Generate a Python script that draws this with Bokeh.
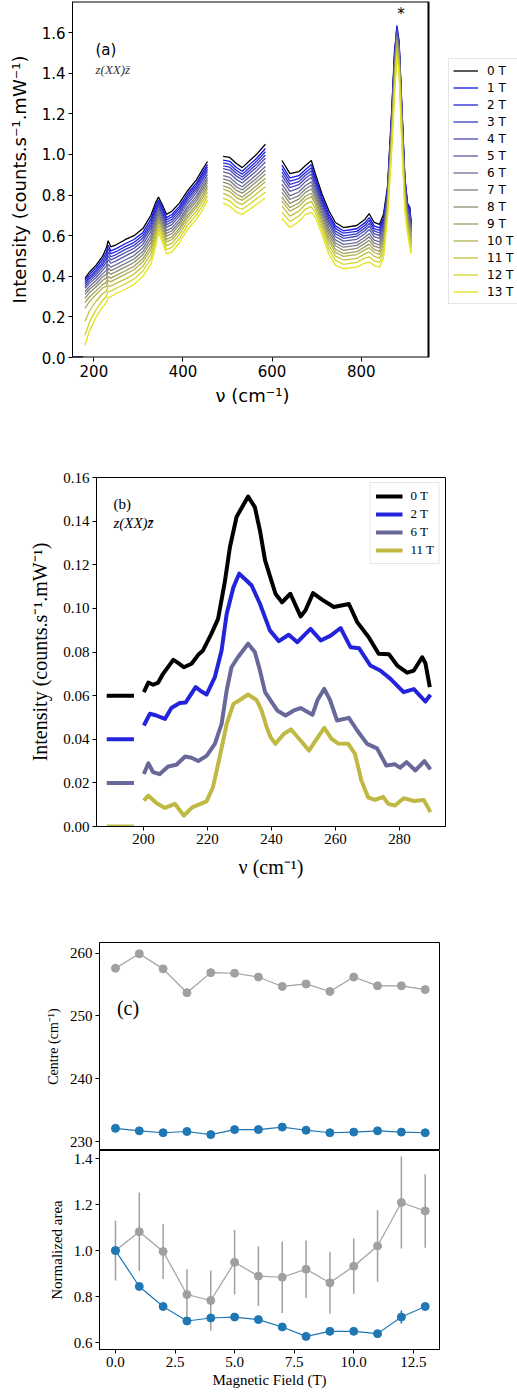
from bokeh.plotting import figure
from bokeh.models import Range1d, Label, Legend, LegendItem, FixedTicker, PrintfTickFormatter, Title
from bokeh.layouts import column
from bokeh.embed import file_html
from bokeh.resources import INLINE

NAN = float("nan")

# ---------------- Panel (a): Raman spectra 0..13 T ----------------
fields_a = list(range(14))
nu_seg1 = [180, 190, 205, 220, 228, 232, 238, 250, 270, 290, 310, 328, 338, 345, 353, 363, 375, 392, 410, 430, 445, 455]
nu_seg2 = [490, 505, 520, 533, 550, 565, 585]
nu_seg3 = [622, 640, 660, 675, 688, 697, 712, 727, 742, 760, 790, 808, 818, 829, 841, 850, 859, 868, 875, 880,
           885, 891, 898, 904, 909, 912]

I_0T = [.39, .42, .455, .50, .54, .575, .545, .555, .58, .60, .635, .70, .76, .79, .755, .705, .72, .76, .82, .875, .93, .965,
        .99, .985, .955, .935, .97, 1.0, 1.05,
        .97, .905, .915, .945, .97, .905, .805, .725, .665, .64, .65, .68, .708, .665, .655, .705, .84, 1.20, 1.52, 1.60, 1.54, 1.22, .87, .755, .74, .665]
I_1T = [.380, .408, .442, .485, .518, .553, .525, .536, .560, .581, .616, .681, .742, .776, .741, .689, .704, .744, .805, .859, .914, .950,
        .972, .966, .936, .917, .951, .980, 1.029,
        .947, .884, .895, .926, .950, .888, .789, .708, .648, .624, .634, .663, .689, .648, .638, .688, .828, 1.184, 1.502, 1.635, 1.56, 1.25, .89, .76, .735, .66]
I_2T = [.370, .397, .430, .47, .502, .536, .511, .521, .546, .566, .602, .666, .729, .766, .730, .678, .692, .733, .793, .848, .902, .938,
        .958, .951, .921, .903, .936, .966, 1.013,
        .930, .868, .881, .911, .934, .875, .777, .695, .636, .612, .621, .650, .675, .635, .626, .675, .819, 1.172, 1.489, 1.625, 1.55, 1.24, .88, .75, .725, .65]
I_3T = [.360, .388, .419, .458, .486, .519, .496, .507, .531, .552, .588, .652, .716, .755, .719, .666, .68, .721, .782, .836, .89, .927,
        .944, .937, .907, .889, .922, .951, .997,
        .913, .852, .866, .897, .919, .862, .765, .682, .623, .599, .609, .637, .660, .623, .613, .662, .81, 1.16, 1.476, 1.62, 1.54, 1.23, .87, .74, .715, .64]
I_4T = [.350, .376, .407, .445, .470, .502, .481, .493, .516, .538, .574, .638, .703, .745, .708, .654, .668, .709, .771, .824, .878, .916,
        .930, .923, .893, .875, .908, .936, .981,
        .896, .836, .851, .883, .904, .849, .753, .669, .610, .587, .597, .624, .646, .610, .600, .649, .801, 1.148, 1.463, 1.61, 1.53, 1.22, .86, .73, .70, .63]
I_5T = [.341, .365, .394, .43, .451, .483, .464, .476, .499, .521, .557, .621, .687, .732, .696, .641, .654, .696, .757, .811, .864, .902,
        .914, .906, .876, .859, .891, .919, .963,
        .876, .818, .834, .866, .886, .834, .739, .654, .596, .573, .582, .609, .630, .595, .586, .634, .791, 1.134, 1.447, 1.60, 1.52, 1.21, .85, .72, .69, .62]
I_6T = [.324, .350, .379, .413, .429, .460, .445, .457, .480, .502, .539, .602, .670, .718, .681, .625, .638, .680, .742, .795, .848, .887,
        .896, .887, .857, .841, .872, .900, .941,
        .853, .796, .815, .847, .865, .817, .723, .637, .579, .557, .566, .592, .610, .578, .569, .617, .779, 1.118, 1.430, 1.59, 1.51, 1.19, .835, .705, .67, .60]
I_7T = [.311, .336, .363, .398, .410, .441, .427, .440, .462, .485, .522, .585, .654, .706, .669, .611, .624, .666, .729, .781, .834, .874,
        .880, .870, .840, .825, .855, .882, .923,
        .833, .778, .797, .830, .848, .802, .709, .622, .564, .543, .552, .577, .594, .563, .554, .602, .768, 1.104, 1.414, 1.58, 1.50, 1.18, .82, .695, .655, .59]
I_8T = [.291, .319, .348, .38, .392, .421, .410, .423, .445, .468, .506, .568, .639, .694, .656, .598, .61, .653, .716, .768, .82, .861,
        .864, .853, .823, .809, .838, .865, .904,
        .813, .759, .780, .813, .830, .787, .695, .607, .550, .528, .537, .562, .577, .548, .540, .587, .758, 1.09, 1.399, 1.57, 1.49, 1.16, .81, .68, .64, .575]
I_9T = [.271, .298, .328, .36, .370, .399, .391, .404, .426, .449, .487, .549, .621, .680, .642, .582, .594, .637, .700, .752, .804, .845,
        .845, .834, .804, .790, .819, .846, .883,
        .790, .738, .761, .794, .809, .770, .679, .590, .533, .512, .521, .545, .558, .531, .523, .570, .746, 1.074, 1.381, 1.56, 1.48, 1.14, .795, .67, .625, .56]
I_10T = [.242, .275, .310, .343, .351, .379, .374, .387, .409, .432, .471, .532, .606, .668, .629, .569, .58, .624, .687, .739, .79, .832,
         .829, .817, .787, .774, .802, .829, .865,
         .771, .720, .744, .777, .792, .755, .665, .575, .518, .498, .507, .530, .541, .517, .508, .555, .735, 1.06, 1.366, 1.54, 1.46, 1.12, .78, .655, .61, .55]
I_11T = [.179, .229, .277, .315, .327, .354, .351, .365, .386, .410, .449, .510, .586, .652, .613, .551, .562, .606, .670, .721, .772, .815,
         .808, .795, .765, .753, .780, .806, .841,
         .745, .696, .721, .755, .769, .735, .647, .555, .499, .480, .488, .510, .520, .498, .489, .535, .722, 1.042, 1.346, 1.52, 1.44, 1.10, .765, .64, .59, .535]
I_12T = [.110, .174, .236, .283, .300, .326, .327, .341, .362, .386, .426, .486, .564, .634, .595, .531, .542, .586, .651, .701, .752, .796,
         .785, .771, .741, .730, .756, .782, .814,
         .716, .669, .697, .731, .743, .714, .627, .534, .478, .459, .468, .489, .496, .476, .468, .514, .707, 1.022, 1.324, 1.50, 1.42, 1.08, .745, .625, .57, .52]
I_13T = [.06, .13, .20, .25, .27, .295, .30, .315, .335, .36, .40, .46, .54, .615, .575, .51, .52, .565, .63, .68, .73, .775,
         .76, .745, .715, .705, .73, .755, .785,
         .685, .64, .67, .705, .715, .69, .605, .51, .455, .437, .445, .465, .47, .453, .445, .49, .69, 1.00, 1.30, 1.48, 1.40, 1.05, .72, .61, .545, .51]
spectra_a = [I_0T, I_1T, I_2T, I_3T, I_4T, I_5T, I_6T, I_7T, I_8T, I_9T, I_10T, I_11T, I_12T, I_13T]
baseline_nu = [145, 176]
baseline_int = [0, 0]

# ---------------- Panel (b): zoom 190-290 cm-1, offset spectra ----------------
labels_b = ["0 T", "2 T", "6 T", "11 T"]
offsets_b = [0.06, 0.04, 0.02, 0.0]
marker_nu_b = [188.5, 197.0]
nu_b_0T = [200.1, 201.5, 203, 204.6, 206.1, 209.3, 210.8, 212.6, 215, 217.1, 218.6, 221.2, 223.3, 225.4, 227, 229.1, 232.7,
           234.8, 236.4, 238, 239.7, 241.25, 243.3, 245.9, 249.1, 250.6, 253, 255.8, 259.5, 264.2, 266.8, 270.4, 273.5,
           276.7, 279.3, 282.4, 284.5, 287.1, 288.1, 289.5]
int_b_0T = [.0616, .066, .065, .066, .070, .0764, .075, .073, .0746, .0787, .0807, .0883, .0952, .112, .128, .142, .1513,
            .1464, .1357, .122, .114, .1067, .1028, .1067, .0963, .099, .107, .104, .1006, .102, .0937, .0868, .0792,
            .079, .0738, .0705, .0715, .0776, .075, .0639]
nu_b_2T = [200.1, 202, 203.8, 206.7, 208.7, 211.3, 213.2, 216.3, 218, 219.7, 222.3, 224.4, 226, 228.1, 229.9, 232.2, 233.8,
           236.4, 239.5, 242.3, 245.4, 248.1, 252.2, 255.4, 258.5, 261.6, 264.7, 267.4, 270.9, 274, 277.2, 281.3, 284.5,
           288.1, 289.7]
int_b_2T = [.0463, .0517, .051, .0493, .0543, .0566, .0569, .0639, .062, .0605, .0685, .0807, .0975, .1097, .1159, .1128,
            .1105, .1021, .0899, .085, .0879, .0845, .0906, .0853, .0875, .091, .0822, .0817, .0738, .0715, .0677, .0616,
            .063, .0573, .0604]
nu_b_6T = [200.1, 201.5, 203, 205, 207.7, 210.3, 213, 215, 217.1, 219.7, 222.3, 224.4, 226, 227.5, 229.5, 232.7, 234.8,
           236.4, 238, 239.7, 241.8, 244.4, 247, 249.1, 252.8, 254.4, 256.5, 258.3, 260.5, 264.2, 266.8, 269.9, 273,
           275.9, 278.6, 280.2, 282.2, 285, 287.8, 289.7]
int_b_6T = [.0241, .029, .0249, .024, .0275, .0283, .0321, .0315, .030, .0324, .0379, .047, .0624, .073, .0776, .0838,
            .080, .0715, .0616, .0578, .0532, .0509, .0532, .0543, .0512, .058, .0631, .058, .0486, .0498, .044, .0379,
            .0358, .028, .0285, .027, .0295, .0257, .030, .0262]
nu_b_11T = [200.1, 201.5, 204.1, 206.7, 209.8, 212.6, 215.2, 219.7, 221.7, 223.8, 226, 228.1, 230.1, 232.7, 235.3, 236.9,
            238.5, 239.7, 241.25, 243.9, 246.1, 249.1, 251.7, 253.8, 256.5, 258.8, 260.9, 264, 266.1, 268.1, 270.2,
            272.3, 274.9, 276.5, 278.6, 281.3, 284.5, 287.6, 289.7]
int_b_11T = [.0119, .0142, .0107, .0085, .0104, .005, .0088, .0115, .018, .0318, .047, .0562, .058, .0605, .058, .0532,
             .0455, .041, .0379, .0425, .0445, .0394, .0348, .0394, .0452, .0402, .038, .0379, .0333, .0211, .0134,
             .0122, .0136, .0104, .0096, .013, .0117, .0122, .0066]

# ---------------- Panel (c): fitted centre and area vs field ----------------
field_c = [0, 1, 2, 3, 4, 5, 6, 7, 8, 9, 10, 11, 12, 13]
centre_high = [257.6, 259.9, 257.5, 253.7, 256.9, 256.8, 256.2, 254.7, 255.1, 253.9, 256.2, 254.8, 254.8, 254.2]
centre_low = [232.1, 231.7, 231.4, 231.6, 231.1, 231.9, 231.9, 232.3, 231.8, 231.4, 231.5, 231.7, 231.5, 231.4]
area_high = [1.0, 1.082, 0.996, 0.809, 0.783, 0.949, 0.889, 0.884, 0.919, 0.860, 0.932, 1.020, 1.209, 1.172]
area_high_err = [0.13, 0.17, 0.12, 0.11, 0.13, 0.14, 0.13, 0.155, 0.125, 0.135, 0.12, 0.155, 0.20, 0.16]
area_low = [1.0, 0.844, 0.757, 0.694, 0.707, 0.711, 0.700, 0.668, 0.627, 0.649, 0.649, 0.639, 0.711, 0.757]
area_low_err = [0.005, 0.008, 0.008, 0.01, 0.01, 0.008, 0.008, 0.01, 0.01, 0.008, 0.008, 0.01, 0.028, 0.012]

SANS = "DejaVu Sans"
SERIF = "Liberation Serif"


def style(p, font, tick_size, label_size, standoff=6):
    for ax in p.axis:
        ax.major_label_text_font = font
        ax.major_label_text_font_size = tick_size
        ax.axis_label_text_font = font
        ax.axis_label_text_font_size = label_size
        ax.axis_label_text_font_style = "normal"
        ax.axis_label_text_color = "black"
        ax.major_label_text_color = "black"
        ax.major_tick_in = 0
        ax.major_tick_out = 4
        ax.major_label_standoff = 3
        ax.minor_tick_line_color = None
        ax.axis_line_color = "black"
        ax.major_tick_line_color = "black"
        ax.axis_label_standoff = standoff
    p.xgrid.visible = False
    p.ygrid.visible = False
    p.outline_line_color = "black"
    p.outline_line_width = 1
    p.background_fill_color = "white"
    p.border_fill_color = "white"


def mix(t):
    b = (20, 20, 235)
    y = (228, 228, 25)
    return "#%02x%02x%02x" % tuple(int(round(b[i] + (y[i] - b[i]) * t)) for i in range(3))


colors_a = ["#000000"] + [mix((k - 1) / 12.0) for k in range(1, 14)]

# ---------- figure (a): the frame spans to the right edge so that the legend can sit right of the axes box
A_X0, A_X1, A_Y1 = 152.0, 951.0, 1.753
A_PX_PER_UNIT = 356.0 / (A_X1 - A_X0)
A_XEND = A_X0 + 445.0 / A_PX_PER_UNIT
fa = figure(width=517, height=430, x_range=Range1d(A_X0, A_XEND), y_range=Range1d(0, A_Y1),
            output_backend="svg", toolbar_location=None, frame_align=False,
            min_border_left=72, min_border_right=0, min_border_top=1, min_border_bottom=73)
n1, n2 = len(nu_seg1), len(nu_seg2)
nu_all = nu_seg1 + [NAN] + nu_seg2 + [NAN] + nu_seg3
fa.line(baseline_nu, baseline_int, line_color="#1a1a70", line_width=2.5)
items_a = []
for k, spec in enumerate(spectra_a):
    yy = spec[:n1] + [NAN] + spec[n1:n1 + n2] + [NAN] + spec[n1 + n2:]
    r = fa.line(nu_all, yy, line_color=colors_a[k], line_width=1.3)
    items_a.append(LegendItem(label="%d T" % fields_a[k], renderers=[r]))
# axes box (spines) of panel (a)
fa.segment(x0=[A_X0, A_X1], y0=[A_Y1, 0], x1=[A_X1, A_X1], y1=[A_Y1, A_Y1], line_color="black", line_width=2)
fa.segment(x0=[A_X0], y0=[0], x1=[A_X1], y1=[0], line_color="black", line_width=2)
leg_a = Legend(items=items_a, location=(376, 53), label_text_font=SANS, label_text_font_size="12px",
               glyph_width=25, glyph_height=15, label_height=15, spacing=2, padding=4, label_standoff=9,
               border_line_color="#cccccc", background_fill_alpha=0.85, margin=0, label_text_color="black")
fa.add_layout(leg_a)
fa.yaxis.axis_label = "Intensity (counts.s⁻¹.mW⁻¹)"
fa.xaxis.ticker = FixedTicker(ticks=[200, 400, 600, 800])
fa.yaxis.ticker = FixedTicker(ticks=[0, 0.2, 0.4, 0.6, 0.8, 1.0, 1.2, 1.4, 1.6])
fa.yaxis.formatter = PrintfTickFormatter(format="%.1f")
style(fa, SANS, "15px", "18px", standoff=9)
fa.outline_line_color = None
fa.xaxis.axis_line_color = None
fa.add_layout(Title(text="ν (cm⁻¹)", align="left", offset=143, standoff=6, text_font=SANS,
                    text_font_size="18px", text_font_style="normal", text_color="black"), "below")
fa.add_layout(Label(x=203.6, y=1.512, text="(a)", text_font=SANS, text_font_size="15px", text_baseline="middle",
                    text_color="black"))
fa.add_layout(Label(x=203.6, y=1.42, text="z(XX)z\u0304", text_font=SERIF, text_font_style="italic",
                    text_font_size="13px", text_color="#333333", text_baseline="middle"))
fa.add_layout(Label(x=889.5, y=1.69, text="*", text_font=SANS, text_font_size="15px", text_color="black",
                    text_align="center", text_baseline="middle"))

# ---------- figure (b)
colors_b = ["#000000", "#2323dc", "#68689a", "#bfb944"]
fb = figure(width=517, height=470, x_range=Range1d(185.3, 294.4), y_range=Range1d(0, 0.16),
            output_backend="svg", toolbar_location=None, frame_align=False,
            min_border_left=96, min_border_right=72, min_border_top=47, min_border_bottom=74)
curves_b = [(nu_b_0T, int_b_0T), (nu_b_2T, int_b_2T), (nu_b_6T, int_b_6T), (nu_b_11T, int_b_11T)]
items_b = []
for k, (xx, yy) in enumerate(curves_b):
    r = fb.line(xx, yy, line_color=colors_b[k], line_width=4, line_join="round")
    fb.line(marker_nu_b, [offsets_b[k], offsets_b[k]], line_color=colors_b[k], line_width=4)
    items_b.append(LegendItem(label=labels_b[k], renderers=[r]))
leg_b = Legend(items=items_b, location="top_right", label_text_font=SERIF, label_text_font_size="13px",
               glyph_width=27, glyph_height=14, label_height=14, spacing=2, padding=5, label_standoff=8,
               border_line_color="#cccccc", background_fill_alpha=0.85, margin=5, label_text_color="black")
fb.add_layout(leg_b)
fb.xaxis.axis_label = "ν (cm⁻¹)"
fb.yaxis.axis_label = "Intensity (counts.s⁻¹.mW⁻¹)"
fb.xaxis.ticker = FixedTicker(ticks=[200, 220, 240, 260, 280])
fb.yaxis.ticker = FixedTicker(ticks=[0, 0.02, 0.04, 0.06, 0.08, 0.10, 0.12, 0.14, 0.16])
fb.yaxis.formatter = PrintfTickFormatter(format="%.2f")
style(fb, SERIF, "15px", "20px", standoff=9)
fb.add_layout(Label(x=190.6, y=0.148, text="(b)", text_font=SERIF, text_font_size="15px", text_baseline="middle",
                    text_color="black"))
fb.add_layout(Label(x=190.6, y=0.139, text="z(XX)z\u0304", text_font=SERIF, text_font_style="italic",
                    text_font_size="15px", text_baseline="middle", text_color="black"))

# ---------- figure (c) top
GRAY = "#a0a0a0"
BLUE = "#1f77b4"
fc1 = figure(width=517, height=250, x_range=Range1d(-0.67, 13.6), y_range=Range1d(228.57, 261.7),
             output_backend="svg", toolbar_location=None, x_axis_location=None, frame_align=False,
             min_border_left=99, min_border_right=78, min_border_top=42, min_border_bottom=0)
fc1.line(field_c, centre_high, line_color=GRAY, line_width=1.2)
fc1.scatter(field_c, centre_high, size=8, fill_color=GRAY, line_color=GRAY)
fc1.line(field_c, centre_low, line_color=BLUE, line_width=1.2)
fc1.scatter(field_c, centre_low, size=8, fill_color=BLUE, line_color=BLUE)
fc1.yaxis.axis_label = "Centre (cm⁻¹)"
fc1.yaxis.ticker = FixedTicker(ticks=[230, 240, 250, 260])
style(fc1, SERIF, "15px", "14px", standoff=6)
fc1.add_layout(Label(x=0.06, y=251.3, text="(c)", text_font=SERIF, text_font_size="20px", text_baseline="middle",
                     text_color="black"))

# ---------- figure (c) bottom
fc2 = figure(width=517, height=245, x_range=fc1.x_range, y_range=Range1d(0.57, 1.435),
             output_backend="svg", toolbar_location=None, frame_align=False,
             min_border_left=99, min_border_right=78, min_border_top=0, min_border_bottom=46)
hi_lo = [a - e for a, e in zip(area_high, area_high_err)]
hi_hi = [a + e for a, e in zip(area_high, area_high_err)]
lo_lo = [a - e for a, e in zip(area_low, area_low_err)]
lo_hi = [a + e for a, e in zip(area_low, area_low_err)]
fc2.segment(field_c, hi_lo, field_c, hi_hi, line_color=GRAY, line_width=1.5)
fc2.line(field_c, area_high, line_color=GRAY, line_width=1.2)
fc2.scatter(field_c, area_high, size=8, fill_color=GRAY, line_color=GRAY)
fc2.segment(field_c, lo_lo, field_c, lo_hi, line_color=BLUE, line_width=1.5)
fc2.line(field_c, area_low, line_color=BLUE, line_width=1.2)
fc2.scatter(field_c, area_low, size=8, fill_color=BLUE, line_color=BLUE)
fc2.xaxis.axis_label = "Magnetic Field (T)"
fc2.yaxis.axis_label = "Normalized area"
fc2.xaxis.ticker = FixedTicker(ticks=[0, 2.5, 5, 7.5, 10, 12.5])
fc2.xaxis.formatter = PrintfTickFormatter(format="%.1f")
fc2.yaxis.ticker = FixedTicker(ticks=[0.6, 0.8, 1.0, 1.2, 1.4])
fc2.yaxis.formatter = PrintfTickFormatter(format="%.1f")
style(fc2, SERIF, "15px", "15px", standoff=6)
fc2.xaxis.axis_label_standoff = 2

layout = column(fa, fb, fc1, fc2, spacing=0)
open("out.html", "w").write(file_html(layout, INLINE))
